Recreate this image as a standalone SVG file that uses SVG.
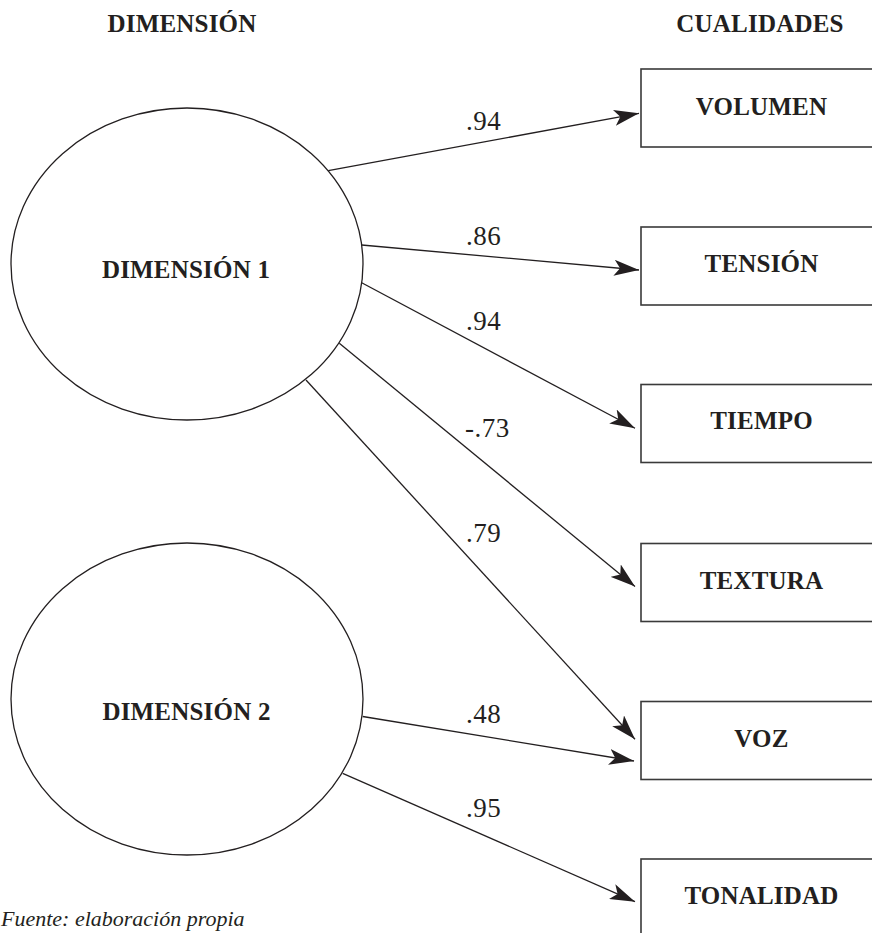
<svg xmlns="http://www.w3.org/2000/svg" width="872" height="933" viewBox="0 0 872 933">
  <style>
    .hdr { font-family: "Liberation Serif", "Times New Roman", serif; font-weight: bold; font-size: 25px; letter-spacing: 0.2px; fill: #231f20; text-anchor: middle; }
    .lbl { font-family: "Liberation Serif", "Times New Roman", serif; font-weight: bold; font-size: 25px; letter-spacing: 0.2px; fill: #231f20; text-anchor: middle; }
    .num { font-family: "Liberation Serif", "Times New Roman", serif; font-size: 27px; letter-spacing: 0.5px; fill: #231f20; }
    .src { font-family: "Liberation Serif", "Times New Roman", serif; font-style: italic; font-size: 22px; fill: #231f20; }
    .ell { fill: #ffffff; stroke: #231f20; stroke-width: 1.3; }
    .box { fill: #ffffff; stroke: #3a3a3a; stroke-width: 1.6; }
    .con { fill: none; stroke: #231f20; stroke-width: 1.3; marker-end: url(#arr); }
  </style>
  <defs>
    <marker id="arr" viewBox="0 0 25 16" refX="25" refY="8" markerWidth="25" markerHeight="16" markerUnits="userSpaceOnUse" orient="auto">
      <path d="M0,0 L25,8 L0,16 L6,8 Z" fill="#231f20"/>
    </marker>
  </defs>
  <rect x="0" y="0" width="872" height="933" fill="#ffffff"/>

  <g id="headers">
    <text class="hdr" x="182" y="32">DIMENSIÓN</text>
    <text class="hdr" x="760" y="32">CUALIDADES</text>
  </g>

  <g id="connectors">
    <line class="con" x1="328.3" y1="170.7" x2="639" y2="113.3"/>
    <line class="con" x1="361.7" y1="245" x2="639" y2="270"/>
    <line class="con" x1="361.7" y1="282.7" x2="635" y2="428.3"/>
    <line class="con" x1="339.3" y1="343.3" x2="635" y2="586.5"/>
    <line class="con" x1="306" y1="380" x2="635" y2="739.3"/>
    <line class="con" x1="362.7" y1="716.5" x2="634" y2="761"/>
    <line class="con" x1="342.7" y1="773.3" x2="635" y2="901.7"/>
  </g>

  <g id="loadings">
    <text class="num" x="466" y="130">.94</text>
    <text class="num" x="466" y="245">.86</text>
    <text class="num" x="466" y="330">.94</text>
    <text class="num" x="465" y="437">-.73</text>
    <text class="num" x="466" y="542">.79</text>
    <text class="num" x="466" y="723">.48</text>
    <text class="num" x="466" y="817">.95</text>
  </g>

  <g id="dim1">
    <ellipse class="ell" cx="187" cy="264" rx="176" ry="156"/>
    <text class="lbl" x="186" y="278">DIMENSIÓN 1</text>
  </g>
  <g id="dim2">
    <ellipse class="ell" cx="187" cy="699" rx="176" ry="156"/>
    <text class="lbl" x="186.5" y="720">DIMENSIÓN 2</text>
  </g>

  <g id="volumen">
    <rect class="box" x="641" y="69" width="240" height="78"/>
    <text class="lbl" x="761.5" y="115">VOLUMEN</text>
  </g>
  <g id="tension">
    <rect class="box" x="641" y="227" width="240" height="78"/>
    <text class="lbl" x="761.5" y="272">TENSIÓN</text>
  </g>
  <g id="tiempo">
    <rect class="box" x="641" y="384.5" width="240" height="78"/>
    <text class="lbl" x="761.5" y="429">TIEMPO</text>
  </g>
  <g id="textura">
    <rect class="box" x="641" y="543.5" width="240" height="78"/>
    <text class="lbl" x="761.5" y="589">TEXTURA</text>
  </g>
  <g id="voz">
    <rect class="box" x="641" y="701.5" width="240" height="78"/>
    <text class="lbl" x="761.5" y="747">VOZ</text>
  </g>
  <g id="tonalidad">
    <rect class="box" x="641" y="859" width="240" height="78"/>
    <text class="lbl" x="761.5" y="903.5">TONALIDAD</text>
  </g>

  <g id="source">
    <text class="src" x="1" y="926">Fuente: elaboración propia</text>
  </g>
</svg>
